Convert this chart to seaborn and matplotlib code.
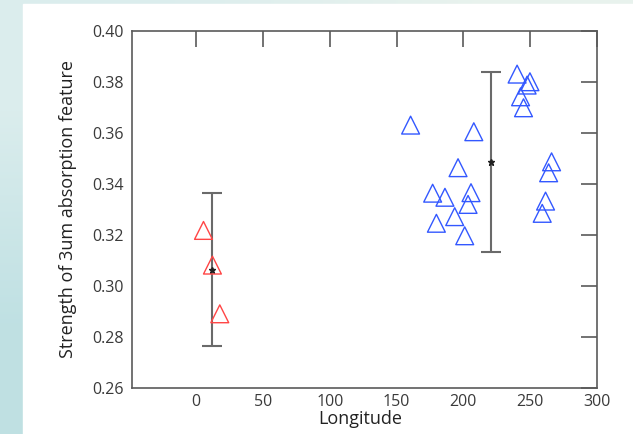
import numpy as np
import matplotlib
matplotlib.use("Agg")
import matplotlib.pyplot as plt
import seaborn as sns

# longitude / 3um band strength
red_lon = [5.5, 12.2, 17.7]
red_str = [0.3218, 0.3082, 0.2891]
red_err = 0.030

blue_lon = [160.5, 207.8, 240.2, 249.8, 247.7, 242.8, 245.0, 266.0, 263.8, 261.5,
            259.0, 196.0, 177.0, 186.2, 205.7, 203.5, 193.5, 179.8, 201.0]
blue_str = [0.3631, 0.3605, 0.3831, 0.3801, 0.3788, 0.3742, 0.3699, 0.3487, 0.3444, 0.3333,
            0.3285, 0.3464, 0.3364, 0.3348, 0.3366, 0.3320, 0.3272, 0.3246, 0.3197]
blue_err = 0.0353

x_ticks = [0, 50, 100, 150, 200, 250, 300]
y_ticks = [0.26, 0.28, 0.30, 0.32, 0.34, 0.36, 0.38, 0.40]

sns.set_style("white")
plt.rcParams['font.family'] = ['Open Sans', 'DejaVu Sans']

fig = plt.figure(figsize=(6.33, 4.34), dpi=100)

# slide-like backdrop: teal gradient with a white panel
bg = fig.add_axes([0, 0, 1, 1], zorder=-2)
grad = np.array([[[0.86, 0.93, 0.93], [0.91, 0.95, 0.93]],
                 [[0.75, 0.88, 0.89], [0.80, 0.90, 0.90]]])
bg.imshow(grad, aspect='auto', extent=[0, 1, 0, 1], interpolation='bilinear')
bg.add_patch(plt.Rectangle((23 / 633, 0), 1, 430 / 434, color='white'))
bg.set_xlim(0, 1)
bg.set_ylim(0, 1)
bg.axis('off')

ax = fig.add_axes([132 / 633, 46 / 434, 465 / 633, 357 / 434])
ax.set_facecolor('white')

sns.scatterplot(x=red_lon, y=red_str, marker='^', s=165, color='#ff4545',
                facecolor='none', edgecolor='#ff4545', linewidth=1.0, ax=ax, zorder=3)
sns.scatterplot(x=blue_lon, y=blue_str, marker='^', s=165, color='#3358ff',
                facecolor='none', edgecolor='#3358ff', linewidth=1.0, ax=ax, zorder=3)

for lon, val, err in [(red_lon, red_str, red_err), (blue_lon, blue_str, blue_err)]:
    ax.errorbar(np.mean(lon), np.mean(val), yerr=err, fmt='*', ms=5, mfc='#222222',
                mec='#222222', ecolor='#6a6a6a', elinewidth=1.5, capsize=7.5,
                capthick=1.5, zorder=2)

ax.set_xlim(-48, 300)
ax.set_ylim(0.26, 0.40)
ax.set_xticks(x_ticks)
ax.set_yticks(y_ticks)
ax.set_yticklabels([f'{v:.2f}' for v in y_ticks])

for s in ax.spines.values():
    s.set_color('#5a5a5a')
    s.set_linewidth(1.2)
    s.set_visible(True)

ax.tick_params(direction='in', top=True, right=True, length=11.5, width=1.2,
               color='#5a5a5a', labelsize=11.5, labelcolor='#3a3a3a')
ax.tick_params(axis='x', pad=4)
ax.tick_params(axis='y', pad=6)

ax.set_xlabel('Longitude', fontsize=13, color='#222222')
ax.set_ylabel('Strength of 3um absorption feature', fontsize=13, color='#222222')
ax.xaxis.set_label_coords(0.49, -0.062)
ax.yaxis.set_label_coords(-0.118, 0.5)

fig.savefig('out.png', dpi=100)
